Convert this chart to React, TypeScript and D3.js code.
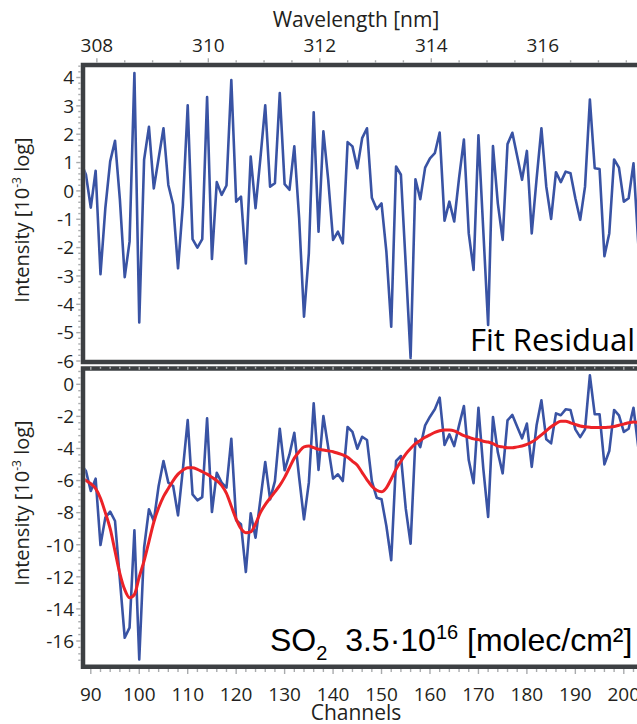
import React, { useEffect, useRef } from 'react';
import * as d3 from 'd3';

// consecutive detector channels, the first one is hidden behind the left frame
const FIRST_CHANNEL = 88;

// fit residual [10^-3 log], channels 88..204
const residual = [
  1.0, 0.57, -0.59, 0.71, -2.94, -0.61, 1.04, 1.77, -0.3, -3.04,
  -1.79, 4.16, -4.64, 1.10, 2.26, 0.09, 1.15, 2.21, 0.21, -0.49,
  -2.73, -0.49, 3.02, -1.70, -2.00, -1.70, 3.31, -2.40, 0.31, -0.14,
  0.19, 3.91, -0.38, -0.20, -2.56, 1.21, -0.61, 1.15, 3.02, 0.15,
  0.27, 3.45, 0.24, 0.04, 1.57, -0.97, -4.44, -2.2, 2.77, -1.44,
  2.10, 0.39, -1.73, -1.44, -1.85, 1.72, 1.57, 0.80, 1.86, 2.21,
  -0.24, -0.64, -0.44, -2.14, -4.79, 0.86, 0.57, -2.61, -5.89, 0.41,
  -0.29, 0.82, 1.15, 1.33, 2.06, -1.05, -0.38, -1.08, 0.45, 1.81,
  -1.50, -2.79, 1.96, -1.39, -4.73, 1.58, -0.44, -1.73, 1.65, 2.05,
  1.22, 0.39, 1.41, -1.50, 0.42, 2.21, 0.15, -0.99, 0.66, 0.31,
  0.68, 0.62, -0.26, -1.02, 0.15, 3.22, 0.80, 0.77, -2.30, -1.50,
  1.11, 0.82, -0.38, -0.26, 0.97, -1.9, -2.5
];

// measured SO2 optical density, channels 88..204
const measured = [
  -5.0, -5.41, -6.65, -5.88, -10.02, -8.31, -7.94, -8.52, -12.16, -15.80,
  -15.17, -9.10, -17.15, -10.19, -7.79, -8.52, -6.34, -4.78, -6.13, -6.34,
  -8.17, -5.30, -2.23, -6.86, -7.23, -7.03, -2.12, -7.96, -5.51, -6.13,
  -6.44, -3.39, -8.48, -8.73, -11.70, -8.04, -9.56, -7.19, -4.84, -7.17,
  -6.03, -2.77, -5.36, -4.37, -3.02, -5.82, -8.42, -6.13, -1.19, -5.34,
  -1.98, -3.93, -5.88, -5.61, -6.03, -2.66, -2.97, -4.01, -3.27, -3.47,
  -6.03, -7.07, -7.17, -8.83, -10.97, -4.78, -4.47, -7.75, -9.94, -3.39,
  -3.91, -2.56, -2.02, -1.56, -0.83, -3.78, -3.12, -3.85, -2.56, -1.35,
  -4.72, -6.17, -1.46, -5.24, -8.27, -2.04, -4.24, -5.55, -2.25, -1.91,
  -2.64, -3.37, -2.45, -5.15, -2.56, -1.00, -3.43, -3.68, -1.81, -1.93,
  -1.56, -1.60, -2.81, -3.29, -2.81, 0.56, -1.87, -1.87, -4.99, -4.16,
  -1.60, -1.93, -2.97, -2.77, -1.46, -3.95, -4.5
];

// fitted SO2 cross section, channels 88..204
const fitted = [
  -5.8, -6.0, -6.2, -6.5, -7.1, -8.0, -9.0, -10.4, -11.8, -12.8,
  -13.3, -13.1, -12.0, -11.0, -9.8, -8.6, -7.7, -7.0, -6.5, -6.0,
  -5.6, -5.35, -5.2, -5.2, -5.3, -5.45, -5.6, -5.8, -6.0, -6.3,
  -6.8, -7.6, -8.4, -9.0, -9.25, -9.2, -8.7, -8.0, -7.5, -7.1,
  -6.7, -6.3, -5.8, -5.2, -4.6, -4.2, -3.9, -3.85, -3.95, -4.05,
  -4.1, -4.15, -4.2, -4.3, -4.4, -4.55, -4.8, -5.05, -5.5, -5.95,
  -6.35, -6.6, -6.7, -6.45, -5.9, -5.3, -4.8, -4.35, -4.0, -3.7,
  -3.5, -3.3, -3.15, -3.0, -2.9, -2.85, -2.85, -2.9, -3.05, -3.2,
  -3.3, -3.4, -3.45, -3.55, -3.6, -3.7, -3.85, -3.9, -3.95, -3.95,
  -3.9, -3.85, -3.75, -3.6, -3.4, -3.15, -2.9, -2.65, -2.45, -2.3,
  -2.3, -2.4, -2.5, -2.6, -2.65, -2.68, -2.7, -2.7, -2.7, -2.67,
  -2.63, -2.55, -2.48, -2.4, -2.35, -2.38, -2.4
];

const channelTicks = [90, 100, 110, 120, 130, 140, 150, 160, 170, 180, 190, 200];
const wavelengthTicks = [308, 310, 312, 314, 316];
const residualTicks = [4, 3, 2, 1, 0, -1, -2, -3, -4, -5, -6];
const so2Ticks = [0, -2, -4, -6, -8, -10, -12, -14, -16];

// wavelength calibration: channel <-> nm
const calibChannels = [91.25, 183.27];
const calibNm = [308, 316];

export default function App() {
  const ref = useRef<SVGSVGElement>(null);

  useEffect(() => {
    const svg = d3.select(ref.current);
    svg.selectAll('*').remove();

    const frameColor = '#3d4043';
    const tickColor = '#a9abad';
    const textColor = '#231f20';
    const axisFont = "'Open Sans', 'Noto Sans', sans-serif";
    const left = 83;
    const right = 652;
    const topBox = { y0: 65, y1: 362 };
    const botBox = { y0: 368.5, y1: 666.75 };
    const sw = 4.5;

    const x = d3.scaleLinear().domain([90, 200]).range([90.8, 623.8]);
    const wl = d3.scaleLinear().domain(calibNm).range(calibChannels.map(c => x(c)));
    const yTop = d3.scaleLinear().domain([-6, 4]).range([361, 77.5]);
    const yBot = d3.scaleLinear().domain([-16, 0]).range([641, 384.3]);

    svg.append('rect').attr('width', 637).attr('height', 724).attr('fill', '#fff');

    const defs = svg.append('defs');
    [['clipTop', topBox], ['clipBot', botBox]].forEach(([id, b]: any) => {
      defs.append('clipPath').attr('id', id)
        .append('rect')
        .attr('x', left + sw / 2)
        .attr('y', b.y0 + sw / 2)
        .attr('width', right - left)
        .attr('height', b.y1 - b.y0 - sw);
    });

    const pts = (vals: number[]) => vals.map((v, i) => [FIRST_CHANNEL + i, v] as [number, number]);

    // residual line
    svg.append('path')
      .attr('clip-path', 'url(#clipTop)')
      .attr('d', d3.line<[number, number]>().x(d => x(d[0])).y(d => yTop(d[1]))(pts(residual)))
      .attr('fill', 'none')
      .attr('stroke', '#3953a4')
      .attr('stroke-width', 2.6)
      .attr('stroke-linejoin', 'round');

    // measured + fit
    const gb = svg.append('g').attr('clip-path', 'url(#clipBot)');
    gb.append('path')
      .attr('d', d3.line<[number, number]>().x(d => x(d[0])).y(d => yBot(d[1]))(pts(measured)))
      .attr('fill', 'none')
      .attr('stroke', '#3953a4')
      .attr('stroke-width', 2.6)
      .attr('stroke-linejoin', 'round');
    gb.append('path')
      .attr('d', d3.line<[number, number]>().x(d => x(d[0])).y(d => yBot(d[1])).curve(d3.curveMonotoneX)(pts(fitted)))
      .attr('fill', 'none')
      .attr('stroke', '#ec2227')
      .attr('stroke-width', 3);

    // frames
    [topBox, botBox].forEach(b => {
      svg.append('rect')
        .attr('x', left).attr('y', b.y0)
        .attr('width', right - left).attr('height', b.y1 - b.y0)
        .attr('fill', 'none')
        .attr('stroke', frameColor)
        .attr('stroke-width', sw);
    });

    const ticks = svg.append('g').attr('stroke', tickColor).attr('stroke-width', 1.4);
    const outerLeft = left - sw / 2;

    // left ticks
    const leftTicks = (scale: d3.ScaleLinear<number, number>, lo: number, hi: number, step: number, majors: number[]) => {
      d3.range(lo, hi + 1e-6, step).forEach(v => {
        const major = majors.some(m => Math.abs(m - v) < 1e-6);
        ticks.append('line')
          .attr('x1', outerLeft - (major ? 4.5 : 2.5)).attr('x2', outerLeft)
          .attr('y1', scale(v)).attr('y2', scale(v));
      });
      majors.forEach(v => {
        svg.append('text')
          .attr('x', 74).attr('y', scale(v) + 6.8)
          .attr('text-anchor', 'end')
          .attr('font-family', axisFont).attr('font-size', 19)
          .attr('fill', textColor)
          .text(v);
      });
    };
    leftTicks(yTop, -6, 4.4, 0.2, residualTicks);
    leftTicks(yBot, -17.2, 0.8, 0.4, so2Ticks);

    // bottom channel ticks
    d3.range(90, 206, 2).forEach(c => {
      const major = c % 10 === 0;
      const xx = x(c);
      ticks.append('line')
        .attr('x1', xx).attr('x2', xx)
        .attr('y1', botBox.y1 + sw / 2).attr('y2', botBox.y1 + sw / 2 + (major ? 5 : 3));
      ticks.append('line')
        .attr('x1', xx).attr('x2', xx)
        .attr('y1', botBox.y0 - sw / 2 + 0.5).attr('y2', botBox.y0 - sw / 2 + (major ? 3.5 : 2.5));
    });
    channelTicks.forEach(c => {
      svg.append('text')
        .attr('x', x(c)).attr('y', 701)
        .attr('text-anchor', 'middle')
        .attr('font-family', axisFont).attr('font-size', 19)
        .attr('fill', textColor)
        .text(c);
    });

    // top wavelength ticks
    d3.range(307.5, 319, 0.5).forEach(w => {
      const major = Math.abs(w / 2 - Math.round(w / 2)) < 1e-6;
      const xx = wl(w);
      if (xx < outerLeft) return;
      ticks.append('line')
        .attr('x1', xx).attr('x2', xx)
        .attr('y1', topBox.y0 - sw / 2 - (major ? 4.5 : 2.5)).attr('y2', topBox.y0 - sw / 2);
    });
    wavelengthTicks.forEach(w => {
      svg.append('text')
        .attr('x', wl(w)).attr('y', 52)
        .attr('text-anchor', 'middle')
        .attr('font-family', axisFont).attr('font-size', 19)
        .attr('fill', textColor)
        .text(w);
    });

    // axis titles
    svg.append('text')
      .attr('x', 356).attr('y', 27)
      .attr('text-anchor', 'middle')
      .attr('font-family', axisFont).attr('font-size', 21)
      .attr('fill', textColor)
      .text('Wavelength [nm]');
    svg.append('text')
      .attr('x', 356).attr('y', 720)
      .attr('text-anchor', 'middle')
      .attr('font-family', axisFont).attr('font-size', 21)
      .attr('fill', textColor)
      .text('Channels');

    [220, 503].forEach(cy => {
      const t = svg.append('text')
        .attr('transform', `translate(29,${cy}) rotate(-90)`)
        .attr('text-anchor', 'middle')
        .attr('font-family', axisFont).attr('font-size', 20)
        .attr('fill', textColor);
      t.append('tspan').text('Intensity [10');
      t.append('tspan').attr('font-size', 12).attr('dy', -8).text('-3');
      t.append('tspan').attr('dy', 8).text(' log]');
    });

    // panel labels
    svg.append('text')
      .attr('x', 635).attr('y', 351)
      .attr('text-anchor', 'end')
      .attr('font-family', axisFont).attr('font-size', 31)
      .attr('fill', '#000')
      .text('Fit Residual');

    const so2 = svg.append('text')
      .attr('x', 270).attr('y', 651)
      .attr('font-family', "'Liberation Sans', Arial, sans-serif").attr('font-size', 32)
      .attr('fill', '#000')
      .style('white-space', 'pre');
    so2.append('tspan').text('SO');
    so2.append('tspan').attr('font-size', 20).attr('dy', 9).text('2');
    so2.append('tspan').attr('dy', -9).text('  3.5·10');
    so2.append('tspan').attr('font-size', 20).attr('dy', -12).text('16');
    so2.append('tspan').attr('dy', 12).text(' [molec/cm²]');
  }, []);

  return (
    <svg
      ref={ref}
      width={637}
      height={724}
      style={{ position: 'absolute', left: 0, top: 0 }}
    />
  );
}
